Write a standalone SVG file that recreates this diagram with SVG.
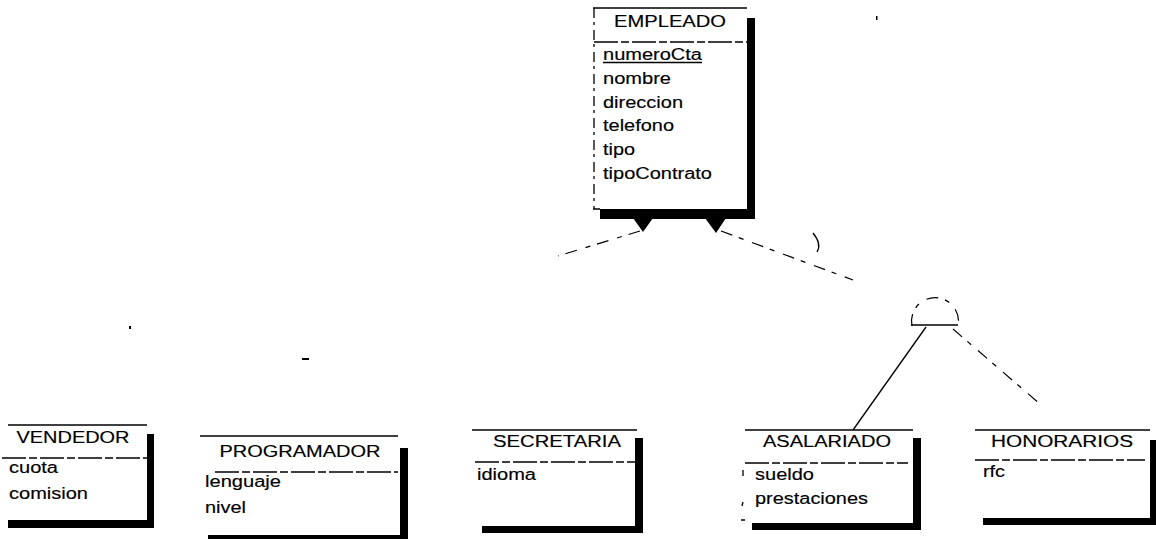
<svg xmlns="http://www.w3.org/2000/svg" width="1156" height="539" viewBox="0 0 1156 539">
<style>
.t{font-family:"Liberation Sans",Arial,sans-serif;font-size:16px;fill:#000;stroke:#000;stroke-width:0.15}
.c{text-anchor:middle}
.ln{stroke:#000;stroke-width:1.3;fill:none}
.dl{stroke:#000;stroke-width:1.3;fill:none;stroke-dasharray:24 3 8 3}
.dv{stroke:#000;stroke-width:1.3;fill:none;stroke-dasharray:10 4 3 5}
.dc{stroke:#000;stroke-width:1.2;fill:none;stroke-dasharray:12 7 5 9}
.bar{fill:#000}
</style>
<rect width="1156" height="539" fill="#fff"/>
<g id="connectors">
<polygon class="bar" points="633,218 653,218 643,232"/>
<polygon class="bar" points="705,218 726,218 716,233"/>
<path class="dc" d="M640,231 L558,256"/>
<path class="dc" d="M721,231 L853,280"/>
<path class="ln" d="M813,233 Q822,244 817,252"/>
<path class="dc" d="M912,326 A23.5,23.5 0 1 1 958,326"/>
<path class="ln" d="M911,325 L958,325"/>
<path class="ln" d="M926,327 L853,430"/>
<path class="dc" d="M953,329 L1040,404"/>
<rect class="bar" x="129" y="326" width="2" height="3"/>
<rect class="bar" x="302" y="358" width="7" height="2"/>
<rect class="bar" x="876" y="16" width="1.5" height="4"/>
</g>
<g id="n-empleado">
<path class="ln" d="M593,8 L747,8 M593,209 L600,209"/>
<path class="dl" d="M594,42 L747,42"/>
<path class="dv" d="M594,8 L594,209"/>
<rect class="bar" x="747" y="18" width="8" height="201"/>
<rect class="bar" x="600" y="209" width="155" height="10"/>
<text class="t c" x="670" y="27" textLength="112" lengthAdjust="spacingAndGlyphs">EMPLEADO</text>
<text class="t" x="603" y="60" textLength="99" lengthAdjust="spacingAndGlyphs">numeroCta</text>
<path class="ln" d="M603,62.5 L702,62.5"/>
<text class="t" x="603" y="84" textLength="68" lengthAdjust="spacingAndGlyphs">nombre</text>
<text class="t" x="603" y="108" textLength="80" lengthAdjust="spacingAndGlyphs">direccion</text>
<text class="t" x="603" y="131" textLength="71" lengthAdjust="spacingAndGlyphs">telefono</text>
<text class="t" x="603" y="155" textLength="32" lengthAdjust="spacingAndGlyphs">tipo</text>
<text class="t" x="603" y="179" textLength="109" lengthAdjust="spacingAndGlyphs">tipoContrato</text>
</g>
<g id="n-vendedor">
<path class="ln" d="M8,425 L147,425"/>
<path class="dl" d="M2,458 L147,458"/>
<rect class="bar" x="147" y="434" width="7" height="94"/>
<rect class="bar" x="8" y="520" width="146" height="8"/>
<text class="t c" x="73" y="443" textLength="113" lengthAdjust="spacingAndGlyphs">VENDEDOR</text>
<text class="t" x="9" y="473" textLength="49" lengthAdjust="spacingAndGlyphs">cuota</text>
<text class="t" x="9" y="499" textLength="79" lengthAdjust="spacingAndGlyphs">comision</text>
</g>
<g id="n-programador">
<path class="ln" d="M200,436 L398,436"/>
<path class="dl" d="M215,472 L398,472"/>
<rect class="bar" x="400" y="448" width="8" height="91"/>
<rect class="bar" x="208" y="535" width="200" height="6"/>
<text class="t c" x="300" y="457" textLength="161" lengthAdjust="spacingAndGlyphs">PROGRAMADOR</text>
<text class="t" x="205" y="487" textLength="76" lengthAdjust="spacingAndGlyphs">lenguaje</text>
<text class="t" x="205" y="513" textLength="41" lengthAdjust="spacingAndGlyphs">nivel</text>
</g>
<g id="n-secretaria">
<path class="ln" d="M472,430 L637,430"/>
<path class="dl" d="M475,462 L637,462"/>
<rect class="bar" x="635" y="438" width="8" height="95"/>
<rect class="bar" x="482" y="526" width="161" height="7"/>
<text class="t c" x="557" y="447" textLength="128" lengthAdjust="spacingAndGlyphs">SECRETARIA</text>
<text class="t" x="477" y="480" textLength="59" lengthAdjust="spacingAndGlyphs">idioma</text>
</g>
<g id="n-asalariado">
<path class="ln" d="M745,430 L913,430"/>
<path class="dl" d="M745,463 L908,463"/>
<path class="ln" d="M743,470 L743,476 M743,502 L742,506 M741,520 L745,520"/>
<rect class="bar" x="913" y="438" width="8" height="92"/>
<rect class="bar" x="752" y="523" width="169" height="7"/>
<text class="t c" x="827" y="447" textLength="128" lengthAdjust="spacingAndGlyphs">ASALARIADO</text>
<text class="t" x="755" y="480" textLength="59" lengthAdjust="spacingAndGlyphs">sueldo</text>
<text class="t" x="755" y="504" textLength="113" lengthAdjust="spacingAndGlyphs">prestaciones</text>
</g>
<g id="n-honorarios">
<path class="ln" d="M975,430 L1150,430"/>
<path class="dl" d="M975,460 L1145,460"/>
<rect class="bar" x="1150" y="440" width="7" height="85"/>
<rect class="bar" x="983" y="518" width="170" height="7"/>
<text class="t c" x="1062" y="447" textLength="142" lengthAdjust="spacingAndGlyphs">HONORARIOS</text>
<text class="t" x="983" y="477" textLength="22" lengthAdjust="spacingAndGlyphs">rfc</text>
</g>
</svg>
